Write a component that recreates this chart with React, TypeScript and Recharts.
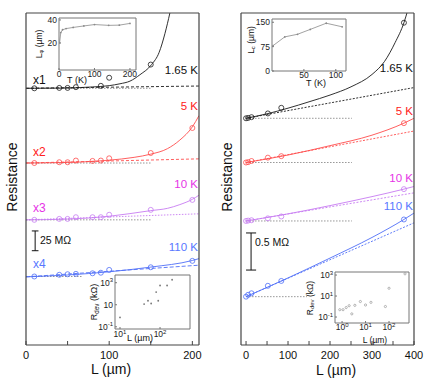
import React from 'react';
import { ComposedChart, Line, XAxis, YAxis, ReferenceLine } from 'recharts';

// left panel: L (µm) vs resistance, vertically offset (1 unit ~ 25 MΩ)
const lenA = [10, 40, 50, 60, 80, 90, 100, 150, 200];
const lenA1 = [10, 40, 50, 60, 90, 100, 150];
const resA1 = [13.0, 13.02, 13.02, 13.06, 13.13, 13.56, 14.26];
const resA5 = [9.03, 9.07, 9.07, 9.16, 9.14, 9.16, 9.28, 9.56, 10.89];
const resA10 = [6.01, 6.06, 6.06, 6.15, 6.15, 6.15, 6.28, 6.54, 7.07];
const resA110 = [3.0, 3.09, 3.12, 3.14, 3.17, 3.2, 3.35, 3.49, 3.83];

const fitLenA1 = [0, 40, 80, 100, 113, 125, 137, 151, 160, 167, 173, 178];
const fitA1 = [13.0, 13.01, 13.07, 13.14, 13.24, 13.38, 13.72, 14.26, 14.9, 15.9, 17.0, 18.0];
const fitLenA5 = [0, 50, 100, 130, 150, 170, 185, 200, 208];
const fitA5 = [9.03, 9.06, 9.18, 9.33, 9.5, 9.79, 10.25, 10.95, 11.55];
const fitLenA10 = [0, 50, 100, 150, 170, 185, 200, 208];
const fitA10 = [6.01, 6.05, 6.2, 6.5, 6.62, 6.82, 7.1, 7.32];
const fitLenA110 = [0, 50, 100, 150, 200, 208];
const fitA110 = [2.98, 3.08, 3.25, 3.5, 3.85, 3.95];

const extLenA = [0, 208];
const extA1 = [13.0, 13.12];
const extA5 = [9.03, 9.25];
const extA10 = [6.01, 6.33];
const extA110 = [2.98, 3.6];
const baseLenA = [0, 150];
const baseLenA110 = [0, 67];

// right panel (1 unit ~ 0.5 MΩ)
const lenB = [0, 5, 13, 52, 84, 376];
const resB1 = [5.78, 5.79, 5.81, 5.91, 6.06, 8.33];
const resB5 = [4.6, 4.61, 4.64, 4.73, 4.77, 5.65];
const resB10 = [3.04, 3.05, 3.06, 3.11, 3.16, 3.89];
const resB110 = [1.02, 1.07, 1.11, 1.31, 1.44, 3.08];

const fitLenB1 = [0, 50, 100, 150, 200, 250, 300, 330, 355, 376, 386];
const fitB1 = [5.78, 5.9, 6.05, 6.22, 6.4, 6.62, 6.95, 7.3, 7.8, 8.33, 8.7];
const fitLenB = [0, 100, 200, 300, 376, 400];
const fitB5 = [4.6, 4.8, 5.05, 5.33, 5.65, 5.78];
const fitB10 = [3.04, 3.23, 3.45, 3.69, 3.89, 3.96];
const fitB110 = [1.02, 1.52, 2.05, 2.6, 3.08, 3.25];

const extLenB = [0, 400];
const extB1 = [5.78, 6.6];
const extB5 = [4.6, 5.44];
const extB10 = [3.04, 3.79];
const extB110 = [1.02, 2.99];
const baseLenB = [0, 252];
const baseLenB110 = [0, 145];

// insets
const tempA = [1.65, 5, 10, 20, 40, 70, 100, 140, 170, 200];
const lphiA = [20, 29, 31.5, 32.5, 33.5, 34.8, 36, 35.3, 35.5, 37];
const tempB = [1.65, 20, 40, 60, 85, 110];
const lcB = [78, 105, 113, 128, 147, 136];
const devLenA = [10, 40, 50, 60, 80, 90, 100, 150, 200];
const devA = [0.7, 11.5, 23, 13, 140, 23, 560, 560, 1860];
const devLenB = [0.8, 1.1, 1.5, 2.0, 2.6, 3.5, 6, 10, 17, 70, 100, 480];
const devB = [0.5, 0.5, 0.8, 1.2, 0.2, 1.3, 3, 1.4, 2.5, 1.0, 55, 1300];

const FONT = '"Liberation Sans", Arial, Helvetica, sans-serif';
const BLACK = '#1a1a1a';
const RED = '#ff4d4d';
const MAG = '#c77cf2';
const BLUE = '#4f6ef7';
const GRAY = '#8a8a8a';

const zip = (xs: number[], ys: number[]) => xs.map((L, i) => ({ L, R: ys[i] }));

interface Curve {
  color: string;
  ptsL: number[];
  pts: number[];
  fitL: number[];
  fit: number[];
  extL: number[];
  ext: number[];
  dash: string;
  baseL: number[];
}

const renderCurve = (c: Curve, i: number) => [
  <Line key={`b${i}`} xAxisId="top" yAxisId="right" data={zip(c.baseL, [c.pts[0], c.pts[0]])} dataKey="R"
    stroke={GRAY} strokeWidth={0.9} strokeDasharray="1.5 1.5" dot={false} isAnimationActive={false} />,
  <Line key={`e${i}`} xAxisId="top" yAxisId="right" data={zip(c.extL, c.ext)} dataKey="R"
    stroke={c.color} strokeWidth={0.9} strokeDasharray={c.dash} dot={false} isAnimationActive={false} />,
  <Line key={`f${i}`} data={zip(c.fitL, c.fit)} dataKey="R" type="monotone"
    stroke={c.color} strokeWidth={0.9} dot={false} isAnimationActive={false} />,
  <Line key={`p${i}`} data={zip(c.ptsL, c.pts)} dataKey="R" stroke="none"
    dot={{ r: 2.5, fill: 'none', stroke: c.color, strokeWidth: 0.8 }} activeDot={false} isAnimationActive={false} />,
];

const curvesA: Curve[] = [
  { color: BLACK, ptsL: lenA1, pts: resA1, fitL: fitLenA1, fit: fitA1, extL: extLenA, ext: extA1, dash: '3 2', baseL: baseLenA },
  { color: RED, ptsL: lenA, pts: resA5, fitL: fitLenA5, fit: fitA5, extL: extLenA, ext: extA5, dash: '3 2', baseL: baseLenA },
  { color: MAG, ptsL: lenA, pts: resA10, fitL: fitLenA10, fit: fitA10, extL: extLenA, ext: extA10, dash: '1.5 1.5', baseL: baseLenA },
  { color: BLUE, ptsL: lenA, pts: resA110, fitL: fitLenA110, fit: fitA110, extL: extLenA, ext: extA110, dash: '4 2', baseL: baseLenA110 },
];

const curvesB: Curve[] = [
  { color: BLACK, ptsL: lenB, pts: resB1, fitL: fitLenB1, fit: fitB1, extL: extLenB, ext: extB1, dash: '2 1.5', baseL: baseLenB },
  { color: RED, ptsL: lenB, pts: resB5, fitL: fitLenB, fit: fitB5, extL: extLenB, ext: extB5, dash: '2 1.5', baseL: baseLenB },
  { color: MAG, ptsL: lenB, pts: resB10, fitL: fitLenB, fit: fitB10, extL: extLenB, ext: extB10, dash: '2 1.5', baseL: baseLenB },
  { color: BLUE, ptsL: lenB, pts: resB110, fitL: fitLenB, fit: fitB110, extL: extLenB, ext: extB110, dash: '2 1.5', baseL: baseLenB110 },
];

interface PanelProps {
  left: number;
  width: number;
  xDomain: [number, number];
  xTicks: number[];
  yDomain: [number, number];
  yTicks: number[];
  curves: Curve[];
  barX: number;
  barY: [number, number];
  cap: number;
}

const Panel = ({ left, width, xDomain, xTicks, yDomain, yTicks, curves, barX, barY, cap }: PanelProps) => {
  const axis = { stroke: '#444', strokeWidth: 1.2 };
  return (
    <div style={{ position: 'absolute', left, top: 0 }}>
      <ComposedChart width={width} height={386} margin={{ top: 12, left: 25, right: width - 200, bottom: 11 }}>
        <XAxis type="number" dataKey="L" domain={xDomain} ticks={xTicks} allowDataOverflow interval={0}
          height={30} tickSize={-4} tickMargin={10} axisLine={axis} tickLine={{ stroke: '#444' }}
          tickFormatter={(v: number) => (v % 100 === 0 ? String(v) : '')}
          tick={{ fill: '#111', fontSize: 11 }} />
        <XAxis xAxisId="top" orientation="top" type="number" dataKey="L" domain={xDomain} ticks={xTicks}
          allowDataOverflow interval={0} height={1} tickSize={-4} axisLine={axis} tickLine={{ stroke: '#444' }} tick={false} />
        <YAxis type="number" domain={yDomain} ticks={yTicks} allowDataOverflow interval={0} width={1}
          tickSize={-4} axisLine={axis} tickLine={{ stroke: '#444' }} tick={false} />
        <YAxis yAxisId="right" orientation="right" type="number" domain={yDomain} ticks={yTicks} allowDataOverflow
          interval={0} width={1} tickSize={-4} axisLine={axis} tickLine={{ stroke: '#444' }} tick={false} />
        {curves.map(renderCurve)}
        <ReferenceLine segment={[{ x: barX, y: barY[0] }, { x: barX, y: barY[1] }]} stroke="#111" strokeWidth={1} />
        <ReferenceLine segment={[{ x: barX - cap, y: barY[0] }, { x: barX + cap, y: barY[0] }]} stroke="#111" strokeWidth={1} />
        <ReferenceLine segment={[{ x: barX - cap, y: barY[1] }, { x: barX + cap, y: barY[1] }]} stroke="#111" strokeWidth={1} />
      </ComposedChart>
    </div>
  );
};

const logTick = (side: 'x' | 'y', plainTen: boolean) => (p: any) => {
  const e = Math.round(Math.log10(p.payload.value));
  return (
    <text x={p.x} y={p.y} dy={side === 'x' ? 7 : 3} textAnchor={p.textAnchor} fontSize={8.5} fill="#222">
      10{plainTen && e === 1 ? null : <tspan dy={-3.5} fontSize={6}>{e}</tspan>}
    </text>
  );
};

interface InsetProps {
  box: [number, number, number, number];
  xDomain: [number, number];
  yDomain: [number, number];
  xTicks: number[];
  yTicks: number[];
  log?: boolean;
  xTick?: any;
  yTick?: any;
  xMargin?: number;
  children: React.ReactNode;
}

const Inset = ({ box, xDomain, yDomain, xTicks, yTicks, log, xTick, yTick, xMargin = 3, children }: InsetProps) => {
  const [x0, y0, x1, y1] = box;
  const axis = { stroke: '#777', strokeWidth: 1 };
  const scale = log ? 'log' : 'auto';
  const lbl = { fontSize: 8.5, fill: '#222' };
  return (
    <div style={{ position: 'absolute', left: x0 - 30, top: y0 - 10 }}>
      <ComposedChart width={x1 - x0 + 40} height={y1 - y0 + 25} margin={{ top: 9, left: 29, right: 9, bottom: 14 }}>
        <XAxis type="number" dataKey="x" scale={scale} domain={xDomain} ticks={xTicks} allowDataOverflow interval={0}
          height={1} tickSize={-2} tickMargin={xMargin} axisLine={axis} tickLine={{ stroke: '#777' }} tick={xTick ?? lbl} />
        <XAxis xAxisId="top" orientation="top" type="number" dataKey="x" scale={scale} domain={xDomain} ticks={xTicks}
          allowDataOverflow interval={0} height={1} tickSize={-2} axisLine={axis} tickLine={{ stroke: '#777' }} tick={false} />
        <YAxis type="number" scale={scale} domain={yDomain} ticks={yTicks} allowDataOverflow interval={0} width={1}
          tickSize={-2} tickMargin={4} axisLine={axis} tickLine={{ stroke: '#777' }} tick={yTick ?? lbl} />
        <YAxis yAxisId="right" orientation="right" type="number" scale={scale} domain={yDomain} ticks={yTicks}
          allowDataOverflow interval={0} width={1} tickSize={-2} axisLine={axis} tickLine={{ stroke: '#777' }} tick={false} />
        {children}
      </ComposedChart>
    </div>
  );
};

const xy = (xs: number[], ys: number[]) => xs.map((x, i) => ({ x, y: ys[i] }));

interface NoteProps {
  x: number;
  y: number;
  color?: string;
  size?: number;
  anchor?: 'start' | 'middle' | 'end';
  rotate?: boolean;
  children: React.ReactNode;
}

const Note = ({ x, y, color = '#111', size = 11, anchor = 'start', rotate, children }: NoteProps) => {
  const tx = anchor === 'end' ? '-100%' : anchor === 'middle' ? '-50%' : '0';
  return (
    <div style={{
      position: 'absolute', left: x, top: y, color, fontSize: size, lineHeight: 1, whiteSpace: 'nowrap',
      transform: rotate ? 'translate(-50%, -50%) rotate(-90deg)' : `translate(${tx}, -50%)`,
    }}>
      {children}
    </div>
  );
};

const sub = { fontSize: '0.7em', verticalAlign: '-0.25em' } as const;

export default function App() {
  return (
    <div style={{ position: 'absolute', left: 0, top: 0, width: 436, height: 386, background: '#fff', fontFamily: FONT }}>
      <Panel left={0} width={215} xDomain={[0, 208]} xTicks={[0, 50, 100, 150, 200]}
        yDomain={[-0.64, 17]} yTicks={Array.from({ length: 18 }, (_, i) => i)}
        curves={curvesA} barX={11} barY={[4.37, 5.42]} cap={4} />
      <Panel left={215} width={221} xDomain={[-12, 400]} xTicks={[0, 50, 100, 150, 200, 250, 300, 350, 400]}
        yDomain={[-0.27, 8.59]} yTicks={[0, 1, 2, 3, 4, 5, 6, 7, 8]}
        curves={curvesB} barX={12} barY={[1.73, 2.72]} cap={12} />

      <Inset box={[59, 18, 136, 70]} xDomain={[0, 217]} yDomain={[-3.5, 41.7]} xTicks={[0, 100, 200]} yTicks={[20, 40]}>
        <Line data={xy(tempA, lphiA)} dataKey="y" stroke={GRAY} strokeWidth={0.8}
          dot={{ r: 0.9, fill: GRAY, stroke: 'none' }} isAnimationActive={false} />
      </Inset>
      <Inset box={[272, 19, 346, 71]} xDomain={[0, 116]} yDomain={[0, 160]} xTicks={[50, 100]} yTicks={[0, 75, 150]}>
        <Line data={xy(tempB, lcB)} dataKey="y" stroke={GRAY} strokeWidth={0.8}
          dot={{ r: 0.9, fill: GRAY, stroke: 'none' }} isAnimationActive={false} />
      </Inset>
      <Inset box={[115, 275, 190, 329]} log xDomain={[7.5, 560]} yDomain={[0.063, 5000]} xTicks={[10, 100]}
        yTicks={[0.1, 10, 1000]} xTick={logTick('x', false)} yTick={logTick('y', true)}>
        <Line data={xy(devLenA, devA)} dataKey="y" stroke="none"
          dot={{ r: 0.9, fill: '#777', stroke: 'none' }} isAnimationActive={false} />
      </Inset>
      <Inset box={[335, 272, 409, 323]} log xDomain={[0.5, 710]} yDomain={[0.027, 1950]} xTicks={[1, 10, 100]}
        yTicks={[0.1, 10, 1000]} xTick={logTick('x', false)} yTick={logTick('y', false)} xMargin={2}>
        <Line data={xy(devLenB, devB)} dataKey="y" stroke="none"
          dot={{ r: 1.1, fill: 'none', stroke: '#888', strokeWidth: 0.6 }} isAnimationActive={false} />
      </Inset>

      <Note x={12} y={177} size={14} rotate>Resistance</Note>
      <Note x={111} y={369} size={14} anchor="middle">L (µm)</Note>
      <Note x={198} y={71} size={11.5} anchor="end">1.65 K</Note>
      <Note x={33} y={80} size={12}>x1</Note>
      <Note x={198} y={107} size={11.5} anchor="end" color="#ff2020">5 K</Note>
      <Note x={33} y={152} size={12} color="#ff2020">x2</Note>
      <Note x={198} y={185} size={11.5} anchor="end" color="#e633e6">10 K</Note>
      <Note x={33} y={208} size={12} color="#e633e6">x3</Note>
      <Note x={198} y={248} size={11.5} anchor="end" color="#5877ff">110 K</Note>
      <Note x={33} y={264} size={12} color="#5877ff">x4</Note>
      <Note x={40} y={240} size={10.5}>25 MΩ</Note>

      <Note x={227} y={177} size={14} rotate>Resistance</Note>
      <Note x={336} y={370} size={14} anchor="middle">L (µm)</Note>
      <Note x={413} y={69} size={11.5} anchor="end">1.65 K</Note>
      <Note x={413} y={112} size={11.5} anchor="end" color="#ff2020">5 K</Note>
      <Note x={413} y={179} size={11.5} anchor="end" color="#e633e6">10 K</Note>
      <Note x={413} y={207} size={11.5} anchor="end" color="#5877ff">110 K</Note>
      <Note x={255} y={242} size={10.5}>0.5 MΩ</Note>

      <Note x={77} y={80} size={9} anchor="middle">T (K)</Note>
      <Note x={40} y={44} size={8.5} rotate>L<span style={sub}>φ</span> (µm)</Note>
      <Note x={316} y={83} size={9} anchor="middle">T (K)</Note>
      <Note x={252} y={40} size={8.5} rotate>L<span style={sub}>c</span> (µm)</Note>
      <Note x={140} y={338} size={9} anchor="middle">L (µm)</Note>
      <Note x={95} y={302} size={9} rotate>R<span style={sub}>dev</span> (kΩ)</Note>
      <Note x={375} y={340} size={8.5} anchor="middle">L (µm)</Note>
      <Note x={311} y={298} size={8.5} rotate>R<span style={sub}>dev</span> (kΩ)</Note>
    </div>
  );
}
